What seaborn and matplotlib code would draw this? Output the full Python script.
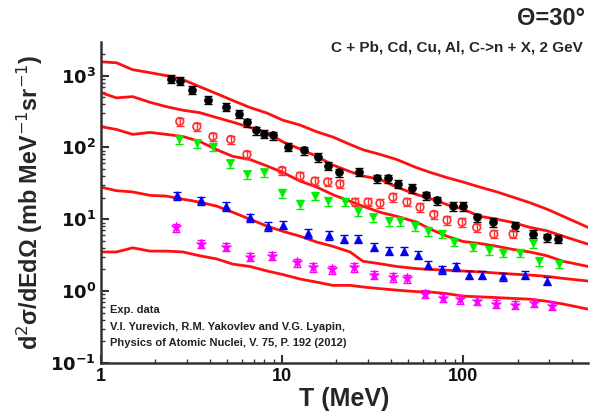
import numpy as np
import pandas as pd
import matplotlib
matplotlib.use("Agg")
import matplotlib.pyplot as plt
import seaborn as sns

# ---- experimental data (T in MeV, cross-section) ----
pb_T = [2.44, 2.73, 3.18, 3.90, 4.91, 5.78, 6.41, 7.18, 7.94, 8.92, 10.8, 13.2, 15.8, 17.9, 20.6,
        26.6, 33.5, 38.5, 43.8, 52.3, 62.5, 71.8, 88, 100, 119, 147, 194, 244, 291, 335]
pb_v = [910, 840, 640, 465, 370, 295, 223, 173, 156, 147, 103, 91, 73, 56, 45,
        46, 37, 37, 31, 27, 21.5, 18.3, 15.2, 15.2, 10.6, 9.1, 8.0, 6.2, 5.6, 5.3]

cd_T = [2.73, 3.39, 4.16, 5.22, 6.41, 10.0, 12.6, 15.2, 17.9, 20.9, 25.3, 29.9, 34.8, 41, 49,
        57.9, 69, 81.6, 98.7, 119, 148, 189]
cd_v = [230, 195, 142, 129, 80, 48, 40, 34, 33, 31, 17.3, 17.3, 16.7, 20.3, 17.3,
        14.7, 11.7, 9.7, 9.1, 7.7, 6.2, 6.2]

cu_T = [2.70, 3.39, 4.16, 5.16, 6.41, 7.94, 10.0, 12.6, 15.2, 17.9, 22.3, 26.3, 31.8, 39, 44.9,
        54.3, 64.1, 76.5, 89, 114, 139, 166, 206, 244, 263, 339]
cu_v = [129, 114, 103, 60, 42, 45, 23, 16.2, 21, 17.8, 17.3, 12.9, 10.6, 9.4, 9.4,
        8.0, 6.8, 6.2, 4.8, 4.1, 3.7, 3.4, 3.4, 4.6, 2.6, 2.4]

al_T = [2.63, 3.57, 4.91, 6.66, 8.37, 10.1, 13.9, 18.2, 22.0, 26.3, 32.2, 39, 47.2, 56.4, 64.1,
        76.5, 91.5, 108, 127, 166, 220, 291]
al_v = [21.5, 18.3, 15.2, 10.6, 8.0, 8.3, 6.4, 6.0, 5.3, 5.3, 4.1, 3.6, 3.6, 3.2, 2.3,
        2.0, 2.2, 1.7, 1.7, 1.6, 1.7, 1.4]

c_T = [2.6, 3.57, 4.91, 6.66, 8.8, 12.1, 14.8, 18.9, 25, 32.2, 41, 49, 61.7, 77.6, 96,
       119, 152, 194, 247, 310]
c_v = [7.7, 4.5, 4.1, 3.0, 3.1, 2.5, 2.15, 2.0, 2.15, 1.7, 1.56, 1.5, 0.91, 0.80, 0.77,
       0.73, 0.66, 0.64, 0.68, 0.62]

# ---- model curves ----
line_T = [1.0, 1.22, 1.5, 1.87, 2.3, 2.84, 3.52, 4.37, 5.36, 6.66, 8.3, 10.1, 12.6, 15.6, 19.1,
          23.8, 28, 34.8, 43, 55.7, 65.8, 81.6, 100, 124, 154, 189, 234, 291, 357, 490]
pb_line = [1560, 1510, 1210, 1100, 1000, 880, 700, 560, 450, 360, 300, 240, 205, 165, 140,
           110, 93, 80, 68, 52, 45, 38, 33, 28, 24, 20.3, 17, 13.8, 11, 7.7]
cd_line = [580, 490, 510, 425, 370, 330, 305, 260, 225, 190, 160, 120, 95, 75, 57,
           46, 40, 36, 28, 22, 19.5, 16, 13.8, 11, 10, 9.0, 7.7, 6.9, 5.8, 4.5]
cu_line = [195, 178, 152, 162, 152, 142, 121, 93, 75, 68, 55, 45, 34, 28, 22,
           17.8, 15.2, 12.5, 11, 9.1, 7.3, 5.8, 4.9, 4.6, 4.2, 3.8, 3.5, 3.1, 2.6, 2.2]
al_line = [28, 25, 24, 21.5, 21, 19, 17.3, 15.2, 12.5, 10, 8.0, 6.8, 5.8, 4.8, 4.2,
           3.5, 2.6, 2.4, 2.2, 2.05, 2.0, 1.95, 1.9, 1.85, 1.78, 1.72, 1.67, 1.6, 1.5, 1.38]
c_line = [3.5, 3.5, 4.0, 3.6, 3.6, 3.5, 3.1, 2.8, 2.37, 2.2, 1.9, 1.7, 1.47, 1.33, 1.2,
          1.2, 1.14, 1.08, 1.03, 0.98, 0.97, 0.92, 0.85, 0.83, 0.81, 0.79, 0.77, 0.72, 0.66, 0.56]

rel_err = 0.13

sns.set_theme(style="ticks")
plt.rcParams['font.family'] = ['Liberation Sans', 'DejaVu Sans']

fig = plt.figure(figsize=(6.0, 4.19), dpi=100)
ax = fig.add_axes([0.168, 0.134, 0.812, 0.766])

for yl in [pb_line, cd_line, cu_line, al_line, c_line]:
    sns.lineplot(x=line_T, y=yl, ax=ax, color="#ff1010", linewidth=2.0, legend=False)

series = [
    (pb_T, pb_v, "#000000", "o", "#000000"),
    (cd_T, cd_v, "#ff3030", "o", "none"),
    (cu_T, cu_v, "#00ee00", "v", "#00ee00"),
    (al_T, al_v, "#0000ee", "^", "#0000ee"),
    (c_T, c_v, "#ff00ff", "*", "#ff00ff"),
]
for T, v, col, mk, fc in series:
    v = np.array(v)
    ax.errorbar(T, v, yerr=v * rel_err, fmt="none", ecolor=col, elinewidth=1.0,
                capsize=3, capthick=1.0, zorder=3)
    df = pd.DataFrame({"T": T, "v": v})
    if fc == "none":
        sns.scatterplot(data=df, x="T", y="v", ax=ax, marker=mk, s=30,
                        facecolors="none", edgecolor=col, linewidth=1.2, zorder=4, legend=False)
    else:
        sns.scatterplot(data=df, x="T", y="v", ax=ax, marker=mk,
                        s=60 if mk == "*" else 32, color=col, edgecolor=col,
                        linewidth=0.5, zorder=4, legend=False)

ax.set_xscale("log")
ax.set_yscale("log")
ax.set_xlim(1, 490)
ax.set_ylim(0.1, 2950)

sns.despine(ax=ax)
for s in ["left", "bottom"]:
    ax.spines[s].set_linewidth(1.8)
    ax.spines[s].set_color("#333333")

ax.tick_params(axis="both", which="major", direction="in", length=6, width=1.5,
               labelsize=13, colors="#333333", labelcolor="#111111")
ax.tick_params(axis="both", which="minor", direction="in", length=3, width=1.0,
               colors="#333333")
ax.set_xticks([1, 10, 100])
ax.set_xticklabels(["1", "10", "100"], fontweight="bold")
ax.set_yticks([0.1, 1, 10, 100, 1000])
ax.set_yticklabels([r"$\mathbf{10^{-1}}$", r"$\mathbf{10^{0}}$", r"$\mathbf{10^{1}}$",
                    r"$\mathbf{10^{2}}$", r"$\mathbf{10^{3}}$"])

ax.set_xlabel("T (MeV)", fontsize=18, fontweight="bold", labelpad=2)
ax.set_ylabel(r"d$^2$σ/dEdΩ (mb MeV$^{-1}$sr$^{-1}$)", fontsize=16.8, fontweight="bold", labelpad=4)

fig.text(0.975, 0.955, "Θ=30°", fontsize=17, fontweight="bold", ha="right", va="center")
fig.text(0.972, 0.886, "C + Pb, Cd, Cu, Al, C->n + X, 2 GeV", fontsize=11,
         fontweight="bold", ha="right", va="center")

notes = ["Exp. data", "V.I. Yurevich, R.M. Yakovlev and V.G. Lyapin,",
         "Physics of Atomic Nuclei, V. 75, P. 192 (2012)"]
for i, t in enumerate(notes):
    fig.text(0.183, 0.259 - i * 0.039, t, fontsize=8, fontweight="bold",
             color="#222222", ha="left", va="center")

fig.savefig("out.png", dpi=100)
